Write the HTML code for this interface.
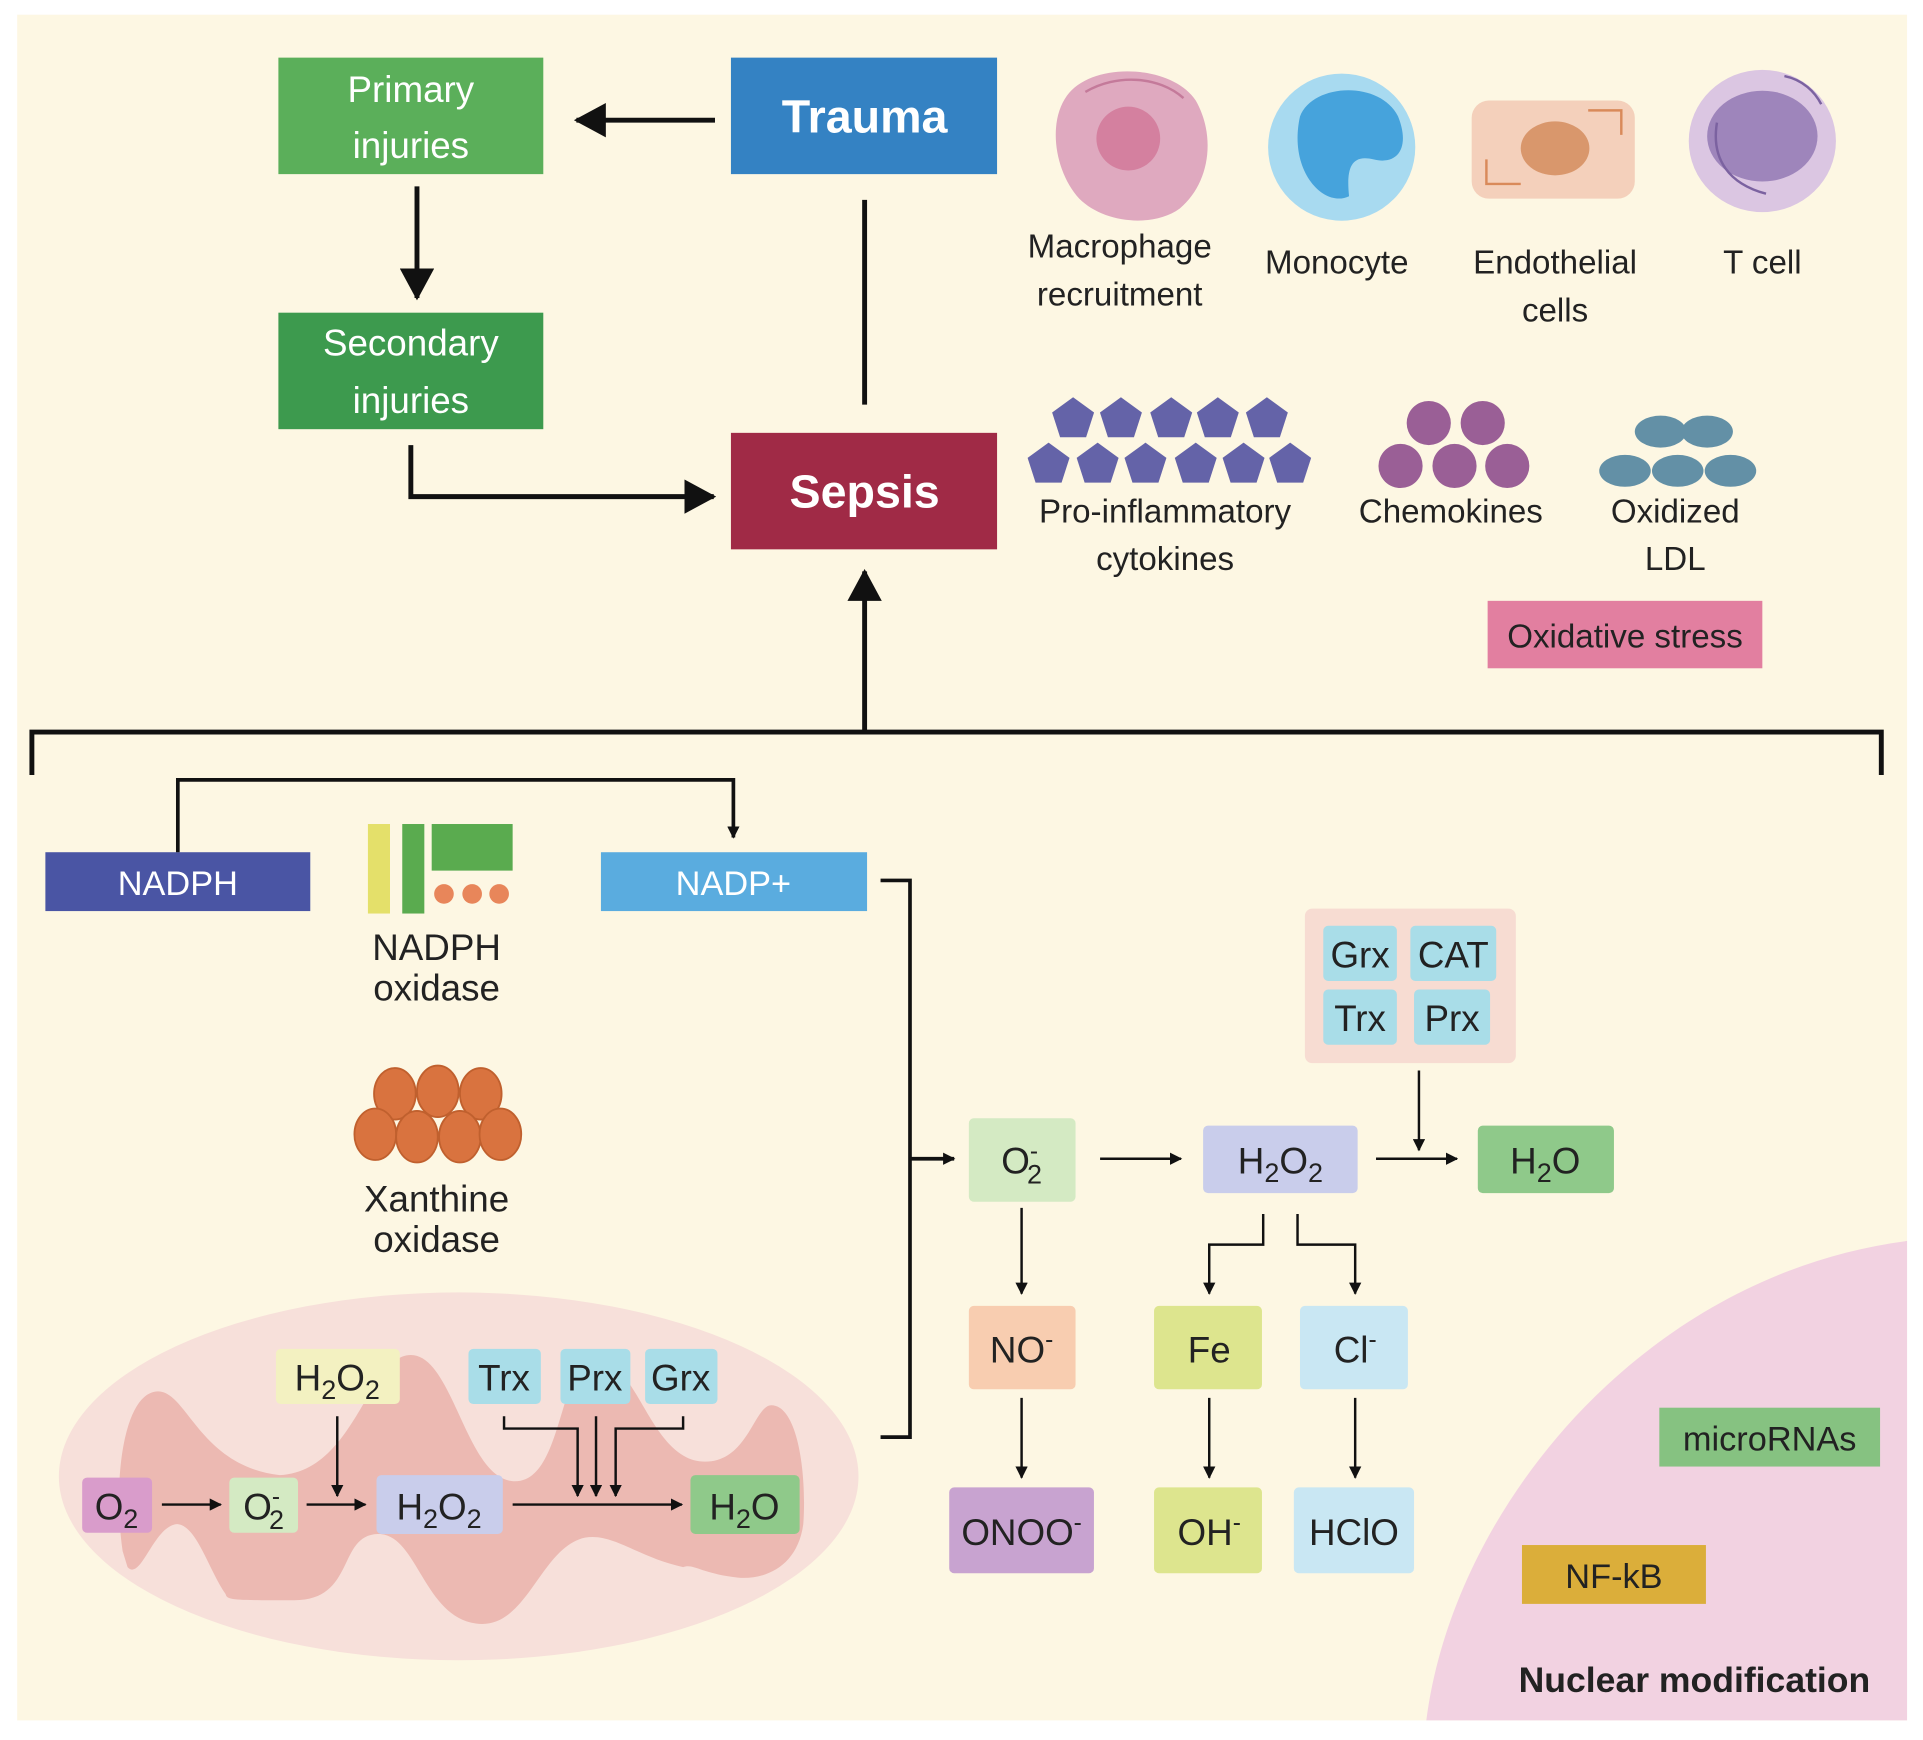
<!DOCTYPE html>
<html><head><meta charset="utf-8"><style>
html,body{margin:0;padding:0;background:#fff;}
svg{display:block;}
text{font-family:"Liberation Sans",sans-serif;}
</style></head><body>
<svg width="1923" height="1740" viewBox="0 0 1568 1419" preserveAspectRatio="none" xmlns="http://www.w3.org/2000/svg">
<defs>
<marker id="ah" markerWidth="10" markerHeight="10" refX="9" refY="5" orient="auto" markerUnits="userSpaceOnUse"><path d="M0,0 L10,5 L0,10 Z" fill="#111"/></marker>
<marker id="ab" markerWidth="26" markerHeight="28" refX="24" refY="14" orient="auto" markerUnits="userSpaceOnUse"><path d="M0,0 L26,14 L0,28 Z" fill="#111"/></marker>
<polygon id="pent" points="0,-18 17.1,-5.6 10.6,14.6 -10.6,14.6 -17.1,-5.6" fill="#6463a8"/>
</defs>
<rect x="14" y="12" width="1541" height="1391" fill="#fdf7e3"/>
<!-- top flow -->
<rect x="227" y="47" width="216" height="95" fill="#5baf5a"/>
<text x="335" y="83" font-size="30" fill="#fff" text-anchor="middle">Primary</text>
<text x="335" y="129" font-size="30" fill="#fff" text-anchor="middle">injuries</text>
<rect x="596" y="47" width="217" height="95" fill="#3482c3"/>
<text x="705" y="108" font-size="38" font-weight="bold" fill="#fff" text-anchor="middle">Trauma</text>
<line x1="583" y1="98" x2="470" y2="98" stroke="#111" stroke-width="4" marker-end="url(#ab)"/>
<line x1="340" y1="152" x2="340" y2="243" stroke="#111" stroke-width="4" marker-end="url(#ab)"/>
<rect x="227" y="255" width="216" height="95" fill="#3d9a4e"/>
<text x="335" y="290" font-size="30" fill="#fff" text-anchor="middle">Secondary</text>
<text x="335" y="337" font-size="30" fill="#fff" text-anchor="middle">injuries</text>
<polyline points="335,363 335,405 582,405" fill="none" stroke="#111" stroke-width="4" marker-end="url(#ab)"/>
<rect x="596" y="353" width="217" height="95" fill="#a02a46"/>
<text x="705" y="414" font-size="38" font-weight="bold" fill="#fff" text-anchor="middle">Sepsis</text>
<line x1="705" y1="163" x2="705" y2="330" stroke="#111" stroke-width="4"/>
<line x1="705" y1="597" x2="705" y2="466" stroke="#111" stroke-width="4" marker-end="url(#ab)"/>
<polyline points="26,632 26,597 1534,597 1534,632" fill="none" stroke="#111" stroke-width="4"/>
<!-- cells -->
<path d="M870,78 C890,50 955,52 975,82 C992,112 986,150 962,170 C940,186 900,182 880,162 C860,140 854,100 870,78Z" fill="#dfa9bf"/>
<path d="M885,75 C910,60 945,62 965,80" fill="none" stroke="#c47a9a" stroke-width="2"/>
<circle cx="920" cy="113" r="26" fill="#d4809f"/>
<circle cx="1094" cy="120" r="60" fill="#a8daf0"/>
<path d="M1060,95 C1070,68 1125,65 1140,95 C1150,120 1140,135 1120,130 C1100,125 1098,140 1100,160 C1080,170 1050,140 1060,95Z" fill="#46a3dc"/>
<rect x="1200" y="82" width="133" height="80" rx="14" fill="#f4d0bb"/>
<ellipse cx="1268" cy="121" rx="28" ry="22" fill="#d9976c"/>
<path d="M1295,90 L1322,90 L1322,110 M1212,130 L1212,150 L1240,150" fill="none" stroke="#d98a5a" stroke-width="2"/>
<ellipse cx="1437" cy="115" rx="60" ry="58" fill="#dbc6e2"/>
<ellipse cx="1437" cy="111" rx="45" ry="37" fill="#9e85bb"/>
<path d="M1400,100 C1395,130 1410,150 1440,158 M1455,62 C1470,65 1480,75 1485,85" fill="none" stroke="#7b62a0" stroke-width="2"/>
<g font-size="27" fill="#222" text-anchor="middle">
<text x="913" y="210">Macrophage</text><text x="913" y="249">recruitment</text>
<text x="1090" y="223">Monocyte</text>
<text x="1268" y="223">Endothelial</text><text x="1268" y="262">cells</text>
<text x="1437" y="223">T cell</text>
<text x="950" y="426">Pro-inflammatory</text><text x="950" y="465">cytokines</text>
<text x="1183" y="426">Chemokines</text>
<text x="1366" y="426">Oxidized</text><text x="1366" y="465">LDL</text>
</g>
<use href="#pent" x="875" y="342"/><use href="#pent" x="914" y="342"/><use href="#pent" x="955" y="342"/><use href="#pent" x="993" y="342"/><use href="#pent" x="1033" y="342"/>
<use href="#pent" x="855" y="379"/><use href="#pent" x="895" y="379"/><use href="#pent" x="934" y="379"/><use href="#pent" x="975" y="379"/><use href="#pent" x="1014" y="379"/><use href="#pent" x="1052" y="379"/>
<g fill="#9a5f96"><circle cx="1165" cy="345" r="18"/><circle cx="1209" cy="345" r="18"/><circle cx="1142" cy="380" r="18"/><circle cx="1186" cy="380" r="18"/><circle cx="1229" cy="380" r="18"/></g>
<g fill="#6390a6"><ellipse cx="1354" cy="352" rx="21" ry="13"/><ellipse cx="1392" cy="352" rx="21" ry="13"/><ellipse cx="1325" cy="384" rx="21" ry="13"/><ellipse cx="1368" cy="384" rx="21" ry="13"/><ellipse cx="1411" cy="384" rx="21" ry="13"/></g>
<rect x="1213" y="490" width="224" height="55" fill="#e27fa0"/>
<text x="1325" y="528" font-size="27" fill="#222" text-anchor="middle">Oxidative stress</text>
<!-- NADPH -->
<rect x="37" y="695" width="216" height="48" fill="#4a55a4"/>
<text x="145" y="730" font-size="28" fill="#fff" text-anchor="middle">NADPH</text>
<rect x="490" y="695" width="217" height="48" fill="#5aacdf"/>
<text x="598" y="730" font-size="28" fill="#fff" text-anchor="middle">NADP+</text>
<polyline points="145,695 145,636 598,636 598,683" fill="none" stroke="#111" stroke-width="3" marker-end="url(#ah)"/>
<rect x="300" y="672" width="18" height="73" fill="#e4e06a"/>
<rect x="328" y="672" width="18" height="73" fill="#5aab4f"/>
<rect x="352" y="672" width="66" height="38" fill="#5aab4f"/>
<g fill="#e8865a"><circle cx="362" cy="729" r="8"/><circle cx="385" cy="729" r="8"/><circle cx="407" cy="729" r="8"/></g>
<g font-size="30" fill="#222" text-anchor="middle">
<text x="356" y="783">NADPH</text><text x="356" y="816">oxidase</text>
<text x="356" y="988">Xanthine</text><text x="356" y="1021">oxidase</text>
</g>
<g fill="#d9733f" stroke="#c0602e" stroke-width="1.5">
<ellipse cx="322" cy="892" rx="17" ry="21"/><ellipse cx="357" cy="890" rx="17" ry="21"/><ellipse cx="392" cy="892" rx="17" ry="21"/>
<ellipse cx="306" cy="925" rx="17" ry="21"/><ellipse cx="340" cy="927" rx="17" ry="21"/><ellipse cx="375" cy="927" rx="17" ry="21"/><ellipse cx="408" cy="925" rx="17" ry="21"/>
</g>
<!-- bracket -->
<polyline points="718,718 742,718 742,1172 718,1172" fill="none" stroke="#111" stroke-width="3"/>
<line x1="742" y1="945" x2="778" y2="945" stroke="#111" stroke-width="3" marker-end="url(#ah)"/>
<!-- right chemistry -->
<rect x="1064" y="741" width="172" height="126" rx="6" fill="#f7dcd2"/>
<g fill="#a9dde8"><rect x="1079" y="755" width="60" height="45" rx="4"/><rect x="1150" y="755" width="70" height="45" rx="4"/><rect x="1079" y="807" width="60" height="45" rx="4"/><rect x="1153" y="807" width="62" height="45" rx="4"/></g>
<g font-size="30" fill="#222" text-anchor="middle">
<text x="1109" y="789">Grx</text><text x="1185" y="789">CAT</text><text x="1109" y="841">Trx</text><text x="1184" y="841">Prx</text>
</g>
<rect x="790" y="912" width="87" height="68" rx="4" fill="#d4eac3"/>
<rect x="981" y="918" width="126" height="55" rx="4" fill="#c9cdeb"/>
<rect x="1205" y="918" width="111" height="55" rx="4" fill="#8fc98a"/>
<rect x="790" y="1065" width="87" height="68" rx="4" fill="#f8cdb0"/>
<rect x="941" y="1065" width="88" height="68" rx="4" fill="#dde58e"/>
<rect x="1060" y="1065" width="88" height="68" rx="4" fill="#c9e7f3"/>
<rect x="774" y="1213" width="118" height="70" rx="4" fill="#c8a3d0"/>
<rect x="941" y="1213" width="88" height="70" rx="4" fill="#dde58e"/>
<rect x="1055" y="1213" width="98" height="70" rx="4" fill="#c9e7f3"/>
<g stroke="#111" stroke-width="2" fill="none" marker-end="url(#ah)">
<line x1="897" y1="945" x2="963" y2="945"/>
<line x1="1122" y1="945" x2="1188" y2="945"/>
<line x1="1157" y1="873" x2="1157" y2="938"/>
<line x1="833" y1="985" x2="833" y2="1055"/>
<polyline points="1030,990 1030,1015 986,1015 986,1055"/>
<polyline points="1058,990 1058,1015 1105,1015 1105,1055"/>
<line x1="833" y1="1140" x2="833" y2="1205"/>
<line x1="986" y1="1140" x2="986" y2="1205"/>
<line x1="1105" y1="1140" x2="1105" y2="1205"/>
</g>
<g font-size="30" fill="#222" text-anchor="middle">
<text x="833" y="957">O<tspan font-size="20" dy="-12">-</tspan><tspan font-size="22" dx="-9" dy="20">2</tspan></text>
<text x="1044" y="957">H<tspan font-size="22" dy="7">2</tspan><tspan dy="-7">O</tspan><tspan font-size="22" dy="7">2</tspan></text>
<text x="1260" y="957">H<tspan font-size="22" dy="7">2</tspan><tspan dy="-7">O</tspan></text>
<text x="833" y="1111">NO<tspan font-size="20" dy="-12">-</tspan></text>
<text x="986" y="1111">Fe</text>
<text x="1105" y="1111">Cl<tspan font-size="20" dy="-12">-</tspan></text>
<text x="833" y="1260">ONOO<tspan font-size="20" dy="-12">-</tspan></text>
<text x="986" y="1260">OH<tspan font-size="20" dy="-12">-</tspan></text>
<text x="1104" y="1260">HClO</text>
</g>
<!-- nuclear -->
<path d="M1163,1403 C1185,1230 1340,1040 1555,1012 L1555,1403 Z" fill="#f2d2e1"/>
<rect x="1353" y="1148" width="180" height="48" fill="#86c281"/>
<text x="1443" y="1183" font-size="28" fill="#222" text-anchor="middle">microRNAs</text>
<rect x="1241" y="1260" width="150" height="48" fill="#dbae3a"/>
<text x="1316" y="1295" font-size="28" fill="#222" text-anchor="middle">NF-kB</text>
<text x="1525" y="1380" font-size="29" font-weight="bold" fill="#222" text-anchor="end">Nuclear modification</text>
<!-- mitochondrion -->
<ellipse cx="374" cy="1204" rx="326" ry="150" fill="#f7e0da"/>
<path d="M100,1265 C92,1210 100,1140 126,1135 C152,1130 160,1195 228,1203 C290,1200 300,1105 335,1105 C370,1105 380,1208 420,1208 C460,1208 455,1108 486,1108 C520,1108 530,1192 575,1192 C610,1192 615,1146 629,1146 C650,1146 658,1200 655,1243 C650,1280 620,1290 597,1286 C570,1282 565,1275 557,1278 C520,1270 500,1250 477,1254 C440,1262 430,1330 388,1324 C345,1318 340,1250 308,1251 C275,1252 290,1305 240,1305 C190,1305 185,1305 184,1300 C170,1280 160,1243 144,1243 C125,1245 115,1290 104,1278 Z" fill="#ecb9b2"/>
<rect x="67" y="1205" width="57" height="45" rx="4" fill="#d99ccb"/>
<rect x="187" y="1205" width="56" height="45" rx="4" fill="#d4eac3"/>
<rect x="307" y="1203" width="103" height="48" rx="4" fill="#c9cdeb"/>
<rect x="563" y="1203" width="89" height="48" rx="4" fill="#8fc98a"/>
<rect x="225" y="1100" width="101" height="45" rx="4" fill="#f3f1c1"/>
<g fill="#a9dde8"><rect x="382" y="1100" width="59" height="45" rx="4"/><rect x="457" y="1100" width="57" height="45" rx="4"/><rect x="526" y="1100" width="59" height="45" rx="4"/></g>
<g stroke="#111" stroke-width="2" fill="none" marker-end="url(#ah)">
<line x1="132" y1="1227" x2="180" y2="1227"/>
<line x1="250" y1="1227" x2="298" y2="1227"/>
<line x1="275" y1="1155" x2="275" y2="1220"/>
<line x1="418" y1="1227" x2="556" y2="1227"/>
<polyline points="411,1155 411,1165 471,1165 471,1220"/>
<line x1="486" y1="1155" x2="486" y2="1220"/>
<polyline points="557,1155 557,1165 502,1165 502,1220"/>
</g>
<g font-size="30" fill="#222" text-anchor="middle">
<text x="95" y="1239">O<tspan font-size="22" dy="7">2</tspan></text>
<text x="215" y="1239">O<tspan font-size="20" dy="-12">-</tspan><tspan font-size="22" dx="-9" dy="20">2</tspan></text>
<text x="358" y="1239">H<tspan font-size="22" dy="7">2</tspan><tspan dy="-7">O</tspan><tspan font-size="22" dy="7">2</tspan></text>
<text x="607" y="1239">H<tspan font-size="22" dy="7">2</tspan><tspan dy="-7">O</tspan></text>
<text x="275" y="1134">H<tspan font-size="22" dy="7">2</tspan><tspan dy="-7">O</tspan><tspan font-size="22" dy="7">2</tspan></text>
<text x="411" y="1134">Trx</text><text x="485" y="1134">Prx</text><text x="555" y="1134">Grx</text>
</g>
</svg>
</body></html>
